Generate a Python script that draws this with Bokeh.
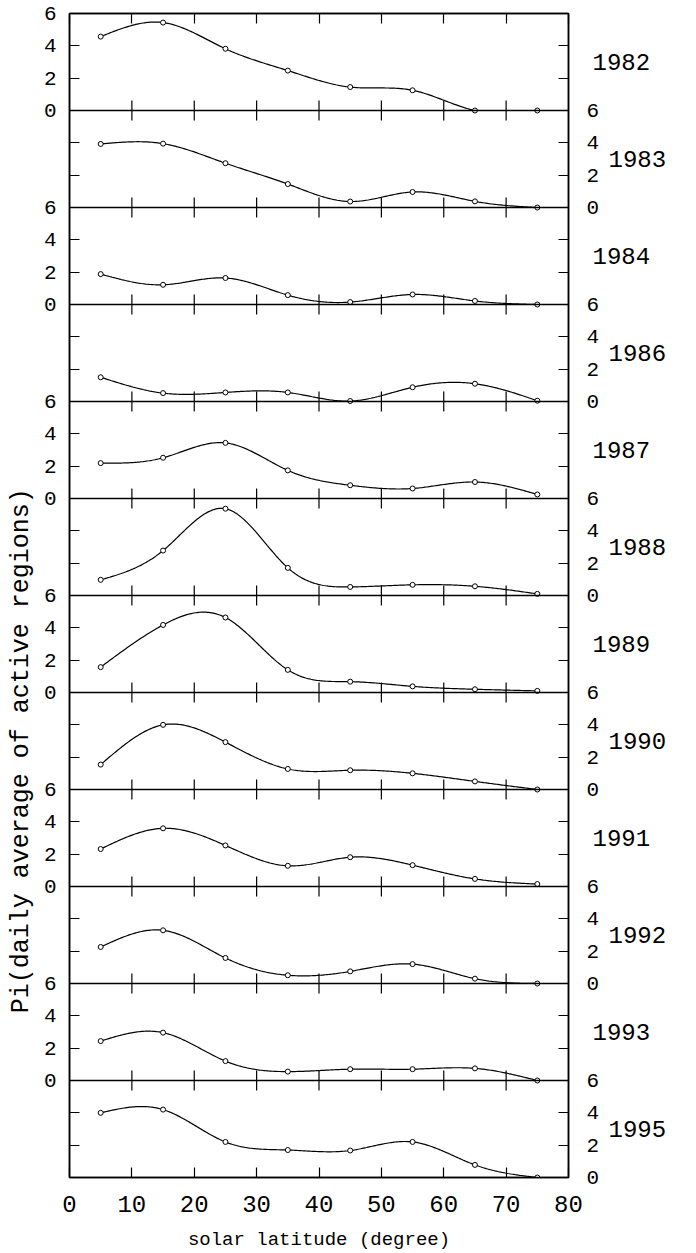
import numpy as np
from bokeh.plotting import figure
from bokeh.models import (Range1d, LinearAxis, FixedTicker, Span, Label,
                          ColumnDataSource)
from bokeh.embed import file_html
from bokeh.resources import INLINE

# ---- data ----
latitude = [5, 15, 25, 35, 45, 55, 65, 75]
years = ["1982", "1983", "1984", "1986", "1987", "1988",
         "1989", "1990", "1991", "1992", "1993", "1995"]
p1982 = [4.57, 5.44, 3.82, 2.47, 1.45, 1.25, 0.00, 0.00]
p1983 = [3.93, 3.95, 2.74, 1.45, 0.37, 0.96, 0.38, 0.00]
p1984 = [1.88, 1.22, 1.64, 0.58, 0.15, 0.62, 0.22, 0.00]
p1986 = [1.50, 0.52, 0.56, 0.56, 0.03, 0.88, 1.10, 0.05]
p1987 = [2.19, 2.52, 3.44, 1.74, 0.82, 0.62, 1.02, 0.25]
p1988 = [0.97, 2.78, 5.37, 1.71, 0.53, 0.66, 0.57, 0.10]
p1989 = [1.57, 4.18, 4.64, 1.40, 0.67, 0.38, 0.20, 0.10]
p1990 = [1.54, 4.00, 2.93, 1.27, 1.19, 1.00, 0.50, 0.00]
p1991 = [2.32, 3.60, 2.54, 1.28, 1.81, 1.32, 0.47, 0.15]
p1992 = [2.26, 3.29, 1.58, 0.51, 0.75, 1.20, 0.30, 0.00]
p1993 = [2.44, 2.96, 1.20, 0.55, 0.70, 0.70, 0.75, 0.00]
p1995 = [4.00, 4.20, 2.20, 1.70, 1.67, 2.20, 0.78, 0.00]
series = [p1982, p1983, p1984, p1986, p1987, p1988,
          p1989, p1990, p1991, p1992, p1993, p1995]
y_tick_values = [0, 2, 4, 6]
x_tick_values = [0, 10, 20, 30, 40, 50, 60, 70, 80]

PANEL = 6
N = len(years)
FONT = "Liberation Mono"


def natural_spline(x, y, xs):
    x = np.asarray(x, float)
    y = np.asarray(y, float)
    n = len(x)
    h = np.diff(x)
    A = np.zeros((n, n))
    r = np.zeros(n)
    A[0, 0] = 1.0
    A[-1, -1] = 1.0
    for i in range(1, n - 1):
        A[i, i - 1] = h[i - 1]
        A[i, i] = 2 * (h[i - 1] + h[i])
        A[i, i + 1] = h[i]
        r[i] = 3 * ((y[i + 1] - y[i]) / h[i] - (y[i] - y[i - 1]) / h[i - 1])
    c = np.linalg.solve(A, r)
    b = (y[1:] - y[:-1]) / h - h * (2 * c[:-1] + c[1:]) / 3
    d = (c[1:] - c[:-1]) / (3 * h)
    idx = np.clip(np.searchsorted(x, xs, side="right") - 1, 0, n - 2)
    dx = xs - x[idx]
    return y[idx] + b[idx] * dx + c[idx] * dx ** 2 + d[idx] * dx ** 3


p = figure(width=696, height=1253, output_backend="svg", toolbar_location=None,
           x_range=Range1d(0, 80), y_range=Range1d(0, PANEL * N),
           x_axis_location=None, y_axis_location=None,
           min_border_left=69, min_border_right=128,
           min_border_top=13, min_border_bottom=75)
p.grid.visible = False
p.outline_line_color = "black"
p.outline_line_width = 1.5
p.background_fill_color = "white"
p.border_fill_color = "white"

bases = [PANEL * (N - 1 - i) for i in range(N)]

# ---- curves and points ----
xs = np.linspace(latitude[0], latitude[-1], 300)
for i, vals in enumerate(series):
    base = bases[i]
    ys = np.clip(natural_spline(latitude, vals, xs), 0, None) + base
    p.line(xs, ys, line_color="black", line_width=1.2)
    src = ColumnDataSource(dict(x=latitude, y=[v + base for v in vals]))
    p.scatter("x", "y", source=src, size=5, marker="circle",
              fill_color="white", line_color="black", line_width=1)

# ---- zero lines between panels ----
for i in range(N - 1):
    p.add_layout(Span(location=bases[i], dimension="width",
                      line_color="black", line_width=1.6))

# ---- x ticks crossing internal zero lines ----
inner_x = x_tick_values[1:-1]
tk = 0.62
sx0, sy0, sx1, sy1 = [], [], [], []
for i in range(N - 1):
    for xv in inner_x:
        sx0.append(xv); sx1.append(xv)
        sy0.append(bases[i] - tk); sy1.append(bases[i] + tk)
p.segment(sx0, sy0, sx1, sy1, line_color="black", line_width=1.2)

# ---- y axes (numbers) ----
left_major, left_over, left_minor = [], {}, []
right_major, right_over, right_minor = [], {}, []
for i in range(N):
    base = bases[i]
    if i % 2 == 0:
        for t in y_tick_values:
            left_major.append(base + t)
            left_over[base + t] = str(t)
        right_minor += [base + t for t in y_tick_values[1:-1]]
    else:
        for t in y_tick_values:
            right_major.append(base + t)
            right_over[base + t] = str(t)
        left_minor += [base + t for t in y_tick_values[1:-1]]

for side, major, over, minor, standoff in [
        ("left", left_major, left_over, left_minor, 13),
        ("right", right_major, right_over, right_minor, 18)]:
    ax = LinearAxis(ticker=FixedTicker(ticks=major, minor_ticks=minor))
    ax.major_label_overrides = over
    ax.major_tick_in = 10
    ax.major_tick_out = 0
    ax.minor_tick_in = 10
    ax.minor_tick_out = 0
    ax.major_tick_line_width = 1.2
    ax.minor_tick_line_width = 1.2
    ax.axis_line_width = 1.5
    ax.major_label_standoff = standoff
    ax.major_label_text_font = FONT
    ax.major_label_text_font_size = "21px"
    ax.major_label_text_color = "black"
    p.add_layout(ax, side)

# ---- year labels: two label-only axes on the right ----
for parity, standoff in [(0, -10), (1, -45)]:
    ticks = [bases[i] + PANEL / 2 for i in range(N) if i % 2 == parity]
    over = {bases[i] + PANEL / 2: years[i] for i in range(N) if i % 2 == parity}
    ya = LinearAxis(ticker=FixedTicker(ticks=ticks, minor_ticks=[]))
    ya.major_label_overrides = over
    ya.axis_line_color = None
    ya.major_tick_line_color = None
    ya.minor_tick_line_color = None
    ya.major_tick_in = 0
    ya.major_tick_out = 0
    ya.major_label_standoff = standoff
    ya.major_label_text_font = FONT
    ya.major_label_text_font_size = "24px"
    ya.major_label_text_color = "black"
    p.add_layout(ya, "right")

# ---- x axes ----
bx = LinearAxis(ticker=FixedTicker(ticks=x_tick_values))
bx.major_tick_in = 10
bx.major_tick_out = 0
bx.minor_tick_line_color = None
bx.major_tick_line_width = 1.2
bx.axis_line_width = 1.5
bx.major_label_standoff = 18
bx.major_label_text_font = FONT
bx.major_label_text_font_size = "24px"
bx.major_label_text_color = "black"
bx.axis_label = "solar latitude (degree)"
bx.axis_label_standoff = 14
bx.axis_label_text_font = FONT
bx.axis_label_text_font_size = "19px"
bx.axis_label_text_font_style = "normal"
bx.axis_label_text_color = "black"
p.add_layout(bx, "below")

tx = LinearAxis(ticker=FixedTicker(ticks=x_tick_values))
tx.major_tick_in = 10
tx.major_tick_out = 0
tx.minor_tick_line_color = None
tx.major_tick_line_width = 1.2
tx.axis_line_width = 1.5
tx.major_label_standoff = 0
tx.major_label_text_font_size = "0px"
tx.major_label_overrides = {v: "" for v in x_tick_values}
p.add_layout(tx, "above")

# ---- y title in the left side panel ----
p.add_layout(Label(x=-7.7, y=26.4, text="Pi(daily average of active regions)",
                   angle=np.pi / 2, text_font=FONT, text_font_size="25px",
                   text_align="center", text_baseline="alphabetic",
                   text_color="black"), "left")

open("out.html", "w").write(file_html(p, INLINE))
